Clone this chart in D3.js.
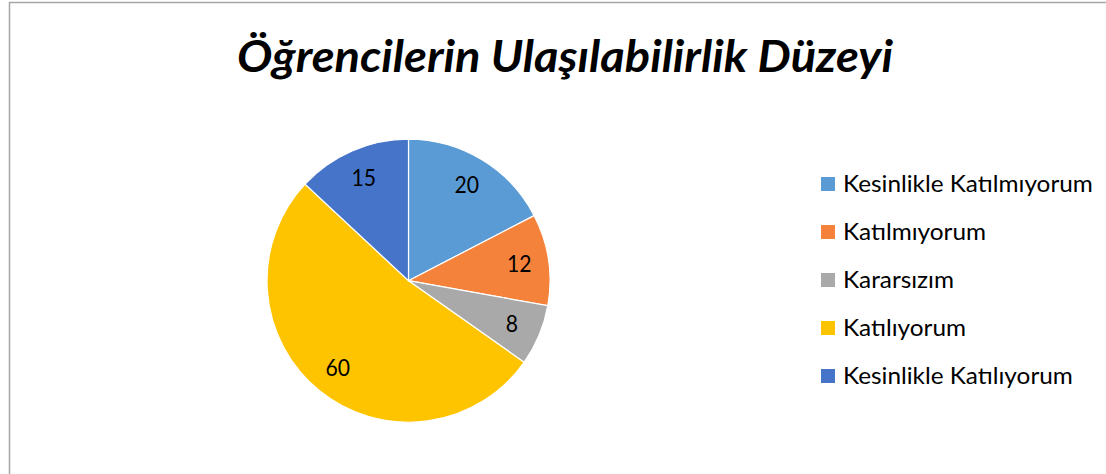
<!DOCTYPE html>
<html><head><meta charset="utf-8">
<script src="https://cdn.jsdelivr.net/npm/d3@7"></script>
<style>body{margin:0;background:#fff}svg{display:block}</style>
</head><body>
<svg id="c" width="1106" height="474"></svg>
<script>
const title = "Öğrencilerin Ulaşılabilirlik Düzeyi";
const categories = ["Kesinlikle Katılmıyorum","Katılmıyorum","Kararsızım","Katılıyorum","Kesinlikle Katılıyorum"];
const values = [20,12,8,60,15];
const colors = ["#5B9BD5","#F4823A","#A9A9A9","#FFC400","#4674C9"];

const svg = d3.select("#c");
const font = "Lato, Calibri, Carlito, sans-serif";

svg.append("rect").attr("x",9.5).attr("y",2.5).attr("width",1200).attr("height",600)
  .attr("fill","#fff").attr("stroke","#a6a6a6").attr("stroke-width",1.5);

// title: size from cap height, squeezed horizontally to the reference width
const tg = svg.append("g");
const t = tg.append("text").attr("x",0).attr("y",0).attr("text-anchor","middle")
  .attr("font-family",font).attr("font-weight","bold").attr("font-style","italic")
  .attr("font-size",44).attr("fill","#000").text(title);
{ const w = t.node().getComputedTextLength(); tg.attr("transform",`translate(565,72) scale(${656/w},1)`); }

const cx = 408.5, cy = 280.7, r = 141.5;
const pie = d3.pie().sort(null).value(d=>d)(values);
const arc = d3.arc().innerRadius(0).outerRadius(r);
const labelArc = d3.arc().innerRadius(112).outerRadius(112);
const g = svg.append("g").attr("transform",`translate(${cx},${cy})`);
g.selectAll("path").data(pie).join("path").attr("d",arc)
  .attr("fill",(d,i)=>colors[i]).attr("stroke","#fff").attr("stroke-width",1.2);
g.selectAll("text").data(pie).join("text")
  .attr("transform",d=>`translate(${labelArc.centroid(d)}) scale(0.92,1)`)
  .attr("text-anchor","middle").attr("dy","0.36em")
  .attr("font-family",font).attr("font-size",23).attr("fill","#000")
  .text(d=>d.data);

const y = d3.scalePoint().domain(categories).range([184,376]);
const items = svg.append("g").selectAll("g").data(categories).join("g")
  .attr("transform",d=>`translate(821,${y(d)})`);
items.append("rect").attr("x",0).attr("y",-7).attr("width",14).attr("height",14)
  .attr("fill",(d,i)=>colors[i]);
const lt = items.append("text").attr("dy","0.36em")
  .attr("font-family",font).attr("font-size",23).attr("fill","#000").text(d=>d);
{ const w = lt.nodes()[0].getComputedTextLength(); const s = 250/w;
  lt.attr("transform",`translate(22,0) scale(${s},1)`); }
</script>
</body></html>
